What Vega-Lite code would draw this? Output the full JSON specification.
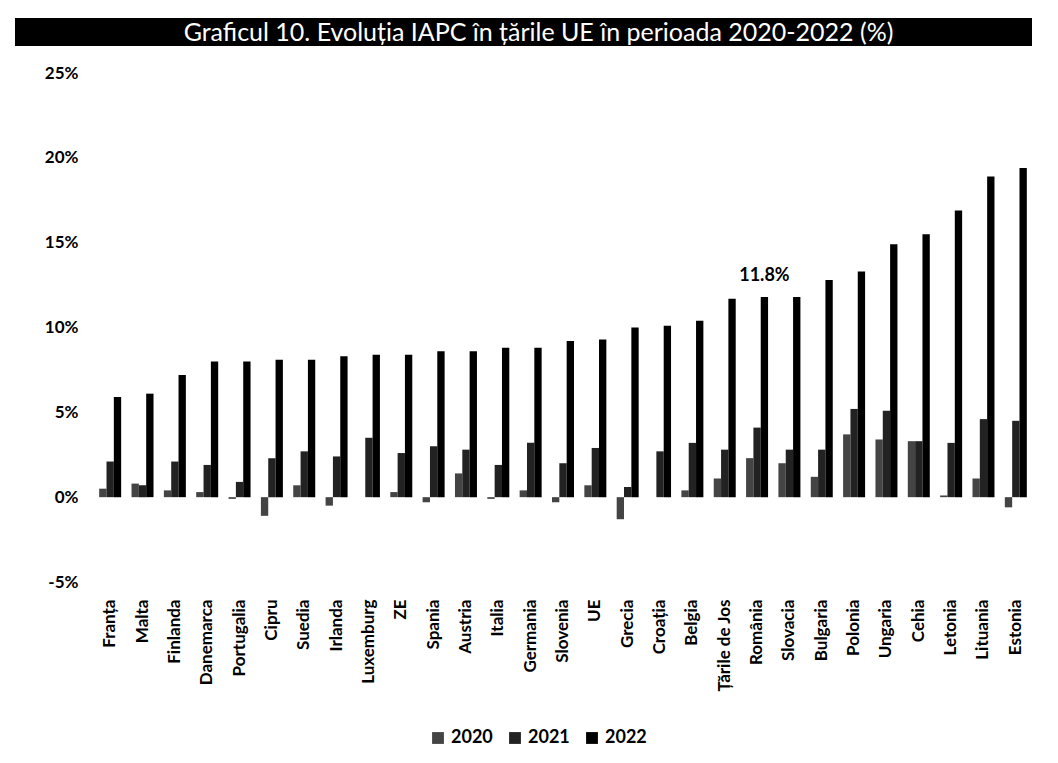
{
  "$schema": "https://vega.github.io/schema/vega-lite/v6.json",
  "background": "white",
  "padding": {"left": 15, "top": 18, "right": 23, "bottom": 0},
  "config": {"view": {"stroke": null}, "font": "Lato"},
  "spacing": 18,
  "vconcat": [
    {
      "width": 1017,
      "height": 28,
      "view": {"fill": "black", "stroke": null},
      "data": {"values": [{"title": "Graficul 10. Evoluția IAPC în țările UE în perioada 2020-2022 (%)"}]},
      "mark": {"type": "text", "align": "center", "baseline": "middle", "color": "white", "font": "Lato", "fontSize": 25, "dy": 1, "dx": 15},
      "encoding": {
        "x": {"datum": 0.5, "type": "quantitative", "scale": {"domain": [0, 1]}, "axis": null},
        "y": {"datum": 0.5, "type": "quantitative", "scale": {"domain": [0, 1]}, "axis": null},
        "text": {"field": "title"}
      }
    },
    {
      "width": 1017,
      "height": 509,
      "data": {"values": [
        {"country": "Franța", "year": "2020", "value": 0.5},
        {"country": "Franța", "year": "2021", "value": 2.1},
        {"country": "Franța", "year": "2022", "value": 5.9},
        {"country": "Malta", "year": "2020", "value": 0.8},
        {"country": "Malta", "year": "2021", "value": 0.7},
        {"country": "Malta", "year": "2022", "value": 6.1},
        {"country": "Finlanda", "year": "2020", "value": 0.4},
        {"country": "Finlanda", "year": "2021", "value": 2.1},
        {"country": "Finlanda", "year": "2022", "value": 7.2},
        {"country": "Danemarca", "year": "2020", "value": 0.3},
        {"country": "Danemarca", "year": "2021", "value": 1.9},
        {"country": "Danemarca", "year": "2022", "value": 8.0},
        {"country": "Portugalia", "year": "2020", "value": -0.1},
        {"country": "Portugalia", "year": "2021", "value": 0.9},
        {"country": "Portugalia", "year": "2022", "value": 8.0},
        {"country": "Cipru", "year": "2020", "value": -1.1},
        {"country": "Cipru", "year": "2021", "value": 2.3},
        {"country": "Cipru", "year": "2022", "value": 8.1},
        {"country": "Suedia", "year": "2020", "value": 0.7},
        {"country": "Suedia", "year": "2021", "value": 2.7},
        {"country": "Suedia", "year": "2022", "value": 8.1},
        {"country": "Irlanda", "year": "2020", "value": -0.5},
        {"country": "Irlanda", "year": "2021", "value": 2.4},
        {"country": "Irlanda", "year": "2022", "value": 8.3},
        {"country": "Luxemburg", "year": "2020", "value": 0.0},
        {"country": "Luxemburg", "year": "2021", "value": 3.5},
        {"country": "Luxemburg", "year": "2022", "value": 8.4},
        {"country": "ZE", "year": "2020", "value": 0.3},
        {"country": "ZE", "year": "2021", "value": 2.6},
        {"country": "ZE", "year": "2022", "value": 8.4},
        {"country": "Spania", "year": "2020", "value": -0.3},
        {"country": "Spania", "year": "2021", "value": 3.0},
        {"country": "Spania", "year": "2022", "value": 8.6},
        {"country": "Austria", "year": "2020", "value": 1.4},
        {"country": "Austria", "year": "2021", "value": 2.8},
        {"country": "Austria", "year": "2022", "value": 8.6},
        {"country": "Italia", "year": "2020", "value": -0.1},
        {"country": "Italia", "year": "2021", "value": 1.9},
        {"country": "Italia", "year": "2022", "value": 8.8},
        {"country": "Germania", "year": "2020", "value": 0.4},
        {"country": "Germania", "year": "2021", "value": 3.2},
        {"country": "Germania", "year": "2022", "value": 8.8},
        {"country": "Slovenia", "year": "2020", "value": -0.3},
        {"country": "Slovenia", "year": "2021", "value": 2.0},
        {"country": "Slovenia", "year": "2022", "value": 9.2},
        {"country": "UE", "year": "2020", "value": 0.7},
        {"country": "UE", "year": "2021", "value": 2.9},
        {"country": "UE", "year": "2022", "value": 9.3},
        {"country": "Grecia", "year": "2020", "value": -1.3},
        {"country": "Grecia", "year": "2021", "value": 0.6},
        {"country": "Grecia", "year": "2022", "value": 10.0},
        {"country": "Croația", "year": "2020", "value": 0.0},
        {"country": "Croația", "year": "2021", "value": 2.7},
        {"country": "Croația", "year": "2022", "value": 10.1},
        {"country": "Belgia", "year": "2020", "value": 0.4},
        {"country": "Belgia", "year": "2021", "value": 3.2},
        {"country": "Belgia", "year": "2022", "value": 10.4},
        {"country": "Țările de Jos", "year": "2020", "value": 1.1},
        {"country": "Țările de Jos", "year": "2021", "value": 2.8},
        {"country": "Țările de Jos", "year": "2022", "value": 11.7},
        {"country": "România", "year": "2020", "value": 2.3},
        {"country": "România", "year": "2021", "value": 4.1},
        {"country": "România", "year": "2022", "value": 11.8},
        {"country": "Slovacia", "year": "2020", "value": 2.0},
        {"country": "Slovacia", "year": "2021", "value": 2.8},
        {"country": "Slovacia", "year": "2022", "value": 11.8},
        {"country": "Bulgaria", "year": "2020", "value": 1.2},
        {"country": "Bulgaria", "year": "2021", "value": 2.8},
        {"country": "Bulgaria", "year": "2022", "value": 12.8},
        {"country": "Polonia", "year": "2020", "value": 3.7},
        {"country": "Polonia", "year": "2021", "value": 5.2},
        {"country": "Polonia", "year": "2022", "value": 13.3},
        {"country": "Ungaria", "year": "2020", "value": 3.4},
        {"country": "Ungaria", "year": "2021", "value": 5.1},
        {"country": "Ungaria", "year": "2022", "value": 14.9},
        {"country": "Cehia", "year": "2020", "value": 3.3},
        {"country": "Cehia", "year": "2021", "value": 3.3},
        {"country": "Cehia", "year": "2022", "value": 15.5},
        {"country": "Letonia", "year": "2020", "value": 0.1},
        {"country": "Letonia", "year": "2021", "value": 3.2},
        {"country": "Letonia", "year": "2022", "value": 16.9},
        {"country": "Lituania", "year": "2020", "value": 1.1},
        {"country": "Lituania", "year": "2021", "value": 4.6},
        {"country": "Lituania", "year": "2022", "value": 18.9},
        {"country": "Estonia", "year": "2020", "value": -0.6},
        {"country": "Estonia", "year": "2021", "value": 4.5},
        {"country": "Estonia", "year": "2022", "value": 19.4}
      ]},
      "encoding": {
        "x": {
          "field": "country", "type": "nominal", "sort": null,
          "scale": {"range": [79, 1017], "paddingInner": 0.32, "paddingOuter": 0.16},
          "axis": {"title": null, "labelAngle": -90, "labelAlign": "right", "labelBaseline": "middle", "labelPadding": 17, "ticks": false, "tickSize": 0, "domain": false, "labelFont": "Lato", "labelFontSize": 17, "labelFontWeight": "bold", "labelColor": "black"}
        },
        "xOffset": {"field": "year", "type": "nominal"},
        "y": {
          "field": "value", "type": "quantitative",
          "scale": {"domain": [-5, 25], "nice": false},
          "axis": {"title": null, "values": [-5, 0, 5, 10, 15, 20, 25], "labelExpr": "datum.value + '%'", "ticks": false, "tickSize": 0, "domain": false, "grid": false, "labelPadding": -63, "labelAlign": "right", "labelFont": "Lato", "labelFontSize": 17, "labelFontWeight": "bold", "labelColor": "black"}
        }
      },
      "layer": [
        {
          "mark": {"type": "bar"},
          "encoding": {
            "color": {
              "field": "year", "type": "nominal",
              "scale": {"domain": ["2020", "2021", "2022"], "range": ["#444444", "#222222", "#000000"]},
              "legend": {"title": null, "orient": "none", "legendX": 414, "legendY": 711, "direction": "horizontal", "symbolType": "square", "symbolSize": 140, "labelFont": "Lato", "labelFontSize": 18, "labelFontWeight": "bold", "labelColor": "black", "columnPadding": 13, "labelOffset": 4}
            }
          }
        },
        {
          "transform": [
            {"filter": "datum.country == 'România' && datum.year == '2022'"},
            {"calculate": "format(datum.value, '.1f') + '%'", "as": "label"}
          ],
          "mark": {"type": "text", "dy": -12, "baseline": "bottom", "align": "center", "font": "Lato", "fontSize": 18, "fontWeight": "bold", "color": "black"},
          "encoding": {"text": {"field": "label"}}
        }
      ]
    }
  ]
}
